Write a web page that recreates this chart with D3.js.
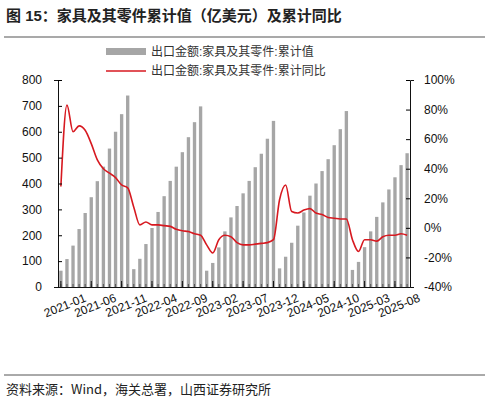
<!DOCTYPE html>
<html lang="en">
<head>
<meta charset="UTF-8">
<title>家具及其零件累计值</title>
<script src="https://d3js.org/d3.v7.min.js"></script>
<style>
  body { margin: 0; background: #fff; }
  text { font-family: "Liberation Sans", Arial, "Noto Sans CJK SC", sans-serif; }
</style>
</head>
<body>
<svg id="chart" width="485" height="403"></svg>
<script>
// monthly cumulative export value (亿美元), 2021-01 .. 2025-10
const values2021 = [63, 108, 160, 224, 286, 347, 409, 465, 535, 600, 668, 740];
const values2022 = [69, 109, 166, 228, 290, 351, 410, 465, 521, 579, 637, 698];
const values2023 = [63, 93, 153, 215, 269, 313, 362, 410, 463, 515, 573, 642];
const values2024 = [72, 117, 171, 237, 288, 353, 400, 448, 494, 548, 610, 680];
const values2025 = [66, 97, 154, 215, 271, 327, 377, 424, 471, 517];
// cumulative YoY (%)
const yoy2021 = [28, 83, 65, 69, 66, 57, 46, 40, 37, 34, 29, 27];
const yoy2022 = [14, 2, 4, 2, 2, 1.5, 1, -1, -2, -2.5, -4, -5];
const yoy2023 = [-11.5, -17, -8, -5, -6, -10, -11.5, -11.5, -11, -10.5, -10, -8];
const yoy2024 = [19, 29, 11, 10, 12, 13, 10, 9, 7, 6.5, 6, 6];
const yoy2025 = [-8, -16, -8, -8, -9, -6, -5, -5, -4, -5];
const leftTicks = [0, 100, 200, 300, 400, 500, 600, 700, 800];
const rightTicks = [-40, -20, 0, 20, 40, 60, 80, 100];

const values = [].concat(values2021, values2022, values2023, values2024, values2025);
const yoy = [].concat(yoy2021, yoy2022, yoy2023, yoy2024, yoy2025);
const months = values.map((_, i) => {
  const yr = 2021 + Math.floor(i / 12), m = i % 12 + 1;
  return yr + "-" + String(m).padStart(2, "0");
});
const data = months.map((m, i) => ({ m, v: values[i], p: yoy[i] }));

const svg = d3.select("#chart");
const plotL = 58, plotR = 410, plotT = 80, plotB = 287;

svg.append("text").attr("x", 6).attr("y", 21)
  .style("font-size", "15px").style("font-weight", "bold").attr("fill", "#222")
  .text("图 15：家具及其零件累计值（亿美元）及累计同比");
svg.append("line").attr("x1", 4).attr("x2", 485).attr("y1", 37).attr("y2", 37)
  .attr("stroke", "#555").attr("stroke-width", 1.2);
svg.append("line").attr("x1", 4).attr("x2", 485).attr("y1", 375).attr("y2", 375)
  .attr("stroke", "#555").attr("stroke-width", 1);
svg.append("text").attr("x", 6).attr("y", 394)
  .style("font-size", "13px").style("font-family", "'Noto Sans CJK SC', serif").attr("fill", "#222")
  .text("资料来源：Wind，海关总署，山西证券研究所");

const x = d3.scaleBand().domain(months).range([plotL, plotR]).paddingInner(0.45).paddingOuter(0.2);
const y = d3.scaleLinear().domain([0, 800]).range([plotB, plotT]);
const y2 = d3.scaleLinear().domain([-40, 100]).range([plotB, plotT]);

svg.selectAll("rect.bar").data(data).enter().append("rect")
  .attr("class", "bar")
  .attr("x", d => x(d.m)).attr("width", x.bandwidth())
  .attr("y", d => y(d.v)).attr("height", d => y(0) - y(d.v))
  .attr("fill", "#a6a6a6");

const line = d3.line().x(d => x(d.m) + x.bandwidth() / 2).y(d => y2(d.p)).curve(d3.curveMonotoneX);
svg.append("path").datum(data).attr("d", line)
  .attr("fill", "none").attr("stroke", "#d71920").attr("stroke-width", 1.6);

// axes
const fs = "12px";
const gl = svg.append("g").attr("transform", `translate(${plotL},0)`)
  .call(d3.axisLeft(y).tickValues(leftTicks).tickSize(4).tickPadding(12));
const gr = svg.append("g").attr("transform", `translate(${plotR},0)`)
  .call(d3.axisRight(y2).tickValues(rightTicks).tickFormat(d => d + "%").tickSize(4).tickPadding(10));
[gl, gr].forEach(g => {
  g.selectAll("text").style("font-size", fs).attr("fill", "#111");
  g.select(".domain").attr("stroke", "#111");
});
gl.selectAll(".tick line").attr("x2", 4);
gr.selectAll(".tick line").attr("x2", -4);

const gx = svg.append("g").attr("transform", `translate(0,${plotB})`)
  .call(d3.axisBottom(x).tickSize(-3).tickFormat(""));
gx.select(".domain").attr("stroke", "#111");
gx.selectAll(".tick line").attr("stroke", "#555");
const labels = months.filter((_, i) => i % 5 === 0);
gx.selectAll(".major").data(labels).enter().append("line")
  .attr("x1", d => x(d) + x.bandwidth() / 2).attr("x2", d => x(d) + x.bandwidth() / 2)
  .attr("y1", 0).attr("y2", -6).attr("stroke", "#111");
gx.selectAll(".lbl").data(labels).enter().append("text")
  .attr("transform", d => `translate(${x(d) + x.bandwidth() / 2 + 26},${14}) rotate(-22)`)
  .attr("text-anchor", "end").style("font-size", "12px").attr("fill", "#111")
  .text(d => d);

// legend
const lg = svg.append("g").style("font-size", "12px");
lg.append("rect").attr("x", 106).attr("y", 48).attr("width", 40).attr("height", 7).attr("fill", "#a6a6a6");
lg.append("text").attr("x", 151).attr("y", 56).attr("fill", "#333").text("出口金额:家具及其零件:累计值");
lg.append("line").attr("x1", 106).attr("x2", 146).attr("y1", 71).attr("y2", 71)
  .attr("stroke", "#d71920").attr("stroke-width", 1.6);
lg.append("text").attr("x", 151).attr("y", 75).attr("fill", "#333").text("出口金额:家具及其零件:累计同比");
</script>
</body>
</html>
